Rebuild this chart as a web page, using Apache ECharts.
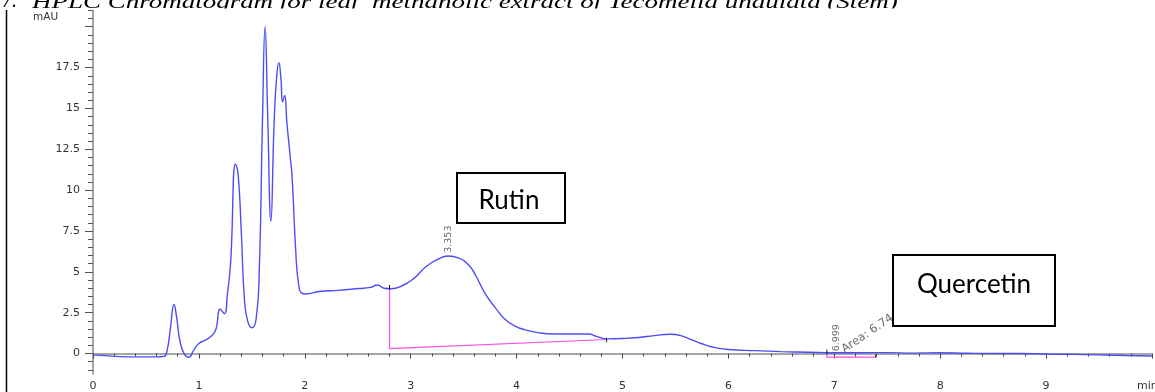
<!DOCTYPE html>
<html>
<head>
<meta charset="utf-8">
<script src="https://cdn.jsdelivr.net/npm/echarts@6/dist/echarts.min.js"></script>
<style>
html,body{margin:0;padding:0;background:#fff;}
#chart{width:1155px;height:392px;}
</style>
</head>
<body>
<div id="chart"></div>
<script>
// ---- data (retention time in min, absorbance in mAU) ----
const times = [0.00,0.15,0.30,0.45,0.60,0.67,0.70,0.73,0.765,0.79,0.82,0.86,0.905,0.95,1.00,1.06,1.115,1.16,1.20,1.24,1.27,1.30,1.345,1.37,1.40,1.43,1.46,1.50,1.54,1.57,1.60,1.625,1.65,1.68,1.71,1.735,1.755,1.775,1.79,1.81,1.83,1.86,1.88,1.915,1.94,1.97,2.01,2.135,2.32,2.51,2.62,2.685,2.75,2.81,2.92,3.03,3.14,3.25,3.353,3.45,3.55,3.62,3.70,3.80,3.89,3.98,4.08,4.20,4.35,4.55,4.675,4.77,4.85,5.00,5.15,5.30,5.45,5.55,5.65,5.75,5.85,6.00,6.25,6.50,6.75,7.00,7.25,7.50,7.75,8.00,8.25,8.50,8.75,9.00,9.25,9.50,9.75,10.0];
const mAU   = [-0.08,-0.14,-0.2,-0.2,-0.2,-0.17,0.2,1.5,3.0,2.2,0.8,0.0,-0.22,0.2,0.62,0.82,1.06,1.47,2.73,2.44,3.7,5.6,11.6,11.0,7.5,3.3,2.0,1.57,2.1,5.0,14.2,20.0,14.4,8.1,14.1,17.0,17.8,16.8,15.4,15.8,14.2,12.2,10.8,6.2,4.3,3.7,3.65,3.8,3.87,3.98,4.05,4.2,4.0,3.97,4.15,4.6,5.3,5.75,5.97,5.85,5.4,4.7,3.7,2.8,2.1,1.7,1.45,1.28,1.2,1.2,1.2,1.02,0.9,0.92,0.98,1.1,1.18,1.1,0.85,0.6,0.4,0.25,0.18,0.12,0.08,0.05,0.05,0.06,0.03,0.05,0.02,0.0,0.0,-0.03,-0.05,-0.08,-0.12,-0.15];

// integration baselines (pink)
const rutinBaseX = [2.80, 2.80, 4.85];
const rutinBaseY = [3.9, 0.3, 0.86];
const quercBaseX = [6.93, 6.93, 7.39];
const quercBaseY = [0.05, -0.22, -0.22];
// integration marks (black ticks): [x, y0, y1]
const markX  = [2.80, 4.85, 6.93, 7.39];
const markY0 = [3.9, 0.96, 0.24, -0.06];
const markY1 = [4.2, 0.69, -0.06, -0.26];

// peak annotations
const peakX    = [3.353, 7.02];
const peakY    = [6.17, 0.14];
const peakText = ['3.353', '6.999'];
const areaX = 7.08, areaY = 0.2, areaText = 'Area: 6.74';

// axis ticks
const yMajor = [0,2.5,5,7.5,10,12.5,15,17.5,20];
const yLabels = [0,2.5,5,7.5,10,12.5,15,17.5];
const yMinor = [-1,-0.5,0.5,1,1.5,2,3,3.5,4,4.5,5.5,6,6.5,7,8,8.5,9,9.5,10.5,11,11.5,12,13,13.5,14,14.5,15.5,16,16.5,17,18,18.5,19,19.5,20.5,21];

const curve = times.map((t, i) => [t, mAU[i]]);
const pink = '#ff4fe0';
const axisGrey = '#8a8a8a';
const tickFont = 'DejaVu Sans';

const segSeries = markX.map((x, i) => ({
  type: 'line', data: [[x, markY0[i]], [x, markY1[i]]], symbol: 'none', silent: true,
  lineStyle: { color: '#222', width: 1 }, z: 4
}));

const chart = echarts.init(document.getElementById('chart'), null, { renderer: 'canvas' });
chart.setOption({
  animation: false,
  backgroundColor: '#fff',
  grid: { left: 93, right: 0, top: 10.4, bottom: 17.5, containLabel: false },
  xAxis: {
    type: 'value', min: 0, max: 10, interval: 1,
    axisLine: { show: true, lineStyle: { color: axisGrey, width: 1.5 } },
    axisTick: { show: true, length: 5, lineStyle: { color: '#444' } },
    minorTick: { show: true, splitNumber: 5, length: 3, lineStyle: { color: '#444' } },
    splitLine: { show: false },
    axisLabel: { fontFamily: tickFont, fontSize: 11, color: '#333', margin: 7,
      formatter: v => (v === 10 ? '' : String(v)) }
  },
  yAxis: [{
    type: 'value', min: -1.25, max: 21, position: 'left',
    axisLine: { show: true, onZero: false, lineStyle: { color: axisGrey, width: 1.5 } },
    axisTick: { show: true, length: 8, customValues: yMajor, lineStyle: { color: '#555' } },
    axisLabel: { customValues: yLabels, fontFamily: tickFont, fontSize: 11, color: '#333', margin: 13 },
    splitLine: { show: false }
  }, {
    type: 'value', min: -1.25, max: 21, position: 'left',
    axisLine: { show: false },
    axisTick: { show: true, length: 5, customValues: yMinor, lineStyle: { color: '#555' } },
    axisLabel: { show: false },
    splitLine: { show: false }
  }],
  series: [{
    type: 'line', data: curve, symbol: 'none', smooth: 0.5,
    lineStyle: { color: '#4d4df5', width: 1.4 }, z: 3
  }, {
    type: 'line', data: rutinBaseX.map((x, i) => [x, rutinBaseY[i]]), symbol: 'none',
    lineStyle: { color: pink, width: 1.2 }, z: 2
  }, {
    type: 'line', data: quercBaseX.map((x, i) => [x, quercBaseY[i]]), symbol: 'none',
    lineStyle: { color: pink, width: 1.2 }, z: 2
  }, ...segSeries, {
    type: 'scatter', symbolSize: 0, silent: true, z: 5,
    data: peakX.map((x, i) => ({ value: [x, peakY[i]], name: peakText[i] })),
    label: { show: true, position: [0, 0], rotate: 90, align: 'left', verticalAlign: 'middle',
      formatter: p => p.name, fontFamily: tickFont, fontSize: 9.5, color: '#444' }
  }, {
    type: 'scatter', symbolSize: 0, silent: true, z: 5,
    data: [{ value: [areaX, areaY], name: areaText }],
    label: { show: true, position: [0, 0], rotate: 34, align: 'left', verticalAlign: 'middle',
      formatter: p => p.name, fontFamily: tickFont, fontSize: 11.5, color: '#444' }
  }],
  graphic: [
    { type: 'text', x: 2, y: 12, z: 1, style: { text: '7.', font: 'italic 20px "Liberation Serif"', fill: '#000', verticalAlign: 'bottom' } },
    { type: 'text', x: 32, y: 12, z: 1, scaleX: 1.42, style: { text: 'HPLC Chromatogram for leaf  methanolic extract of Tecomella undulata (Stem)', font: 'italic 19px "Liberation Serif"', fill: '#000', verticalAlign: 'bottom' } },
    { type: 'rect', z: 2, shape: { x: 0, y: 8.6, width: 88, height: 6 }, style: { fill: '#fff' } },
    { type: 'rect', z: 2, shape: { x: 98, y: 8.6, width: 830, height: 6 }, style: { fill: '#fff' } },
    { type: 'line', z: 5, shape: { x1: 6.5, y1: 10, x2: 6.5, y2: 392 }, style: { stroke: '#000', lineWidth: 1.5 } },
    { type: 'text', x: 33, y: 17.5, z: 5, style: { text: 'mAU', font: '10.5px "DejaVu Sans"', fill: '#333', verticalAlign: 'middle' } },
    { type: 'text', x: 1137, y: 386, z: 5, style: { text: 'min', font: '11px "DejaVu Sans"', fill: '#333', verticalAlign: 'middle' } },
    { type: 'rect', z: 100, shape: { x: 457, y: 173, width: 108, height: 50 }, style: { fill: '#fff', stroke: '#000', lineWidth: 2 } },
    { type: 'text', z: 101, x: 509, y: 201, style: { text: 'Rutin', font: '26px Lato', fill: '#000', align: 'center', verticalAlign: 'middle' } },
    { type: 'rect', z: 100, shape: { x: 893, y: 255, width: 162, height: 71 }, style: { fill: '#fff', stroke: '#000', lineWidth: 2 } },
    { type: 'text', z: 101, x: 974, y: 285, style: { text: 'Quercetin', font: '26px Lato', fill: '#000', align: 'center', verticalAlign: 'middle' } }
  ]
});
</script>
</body>
</html>
